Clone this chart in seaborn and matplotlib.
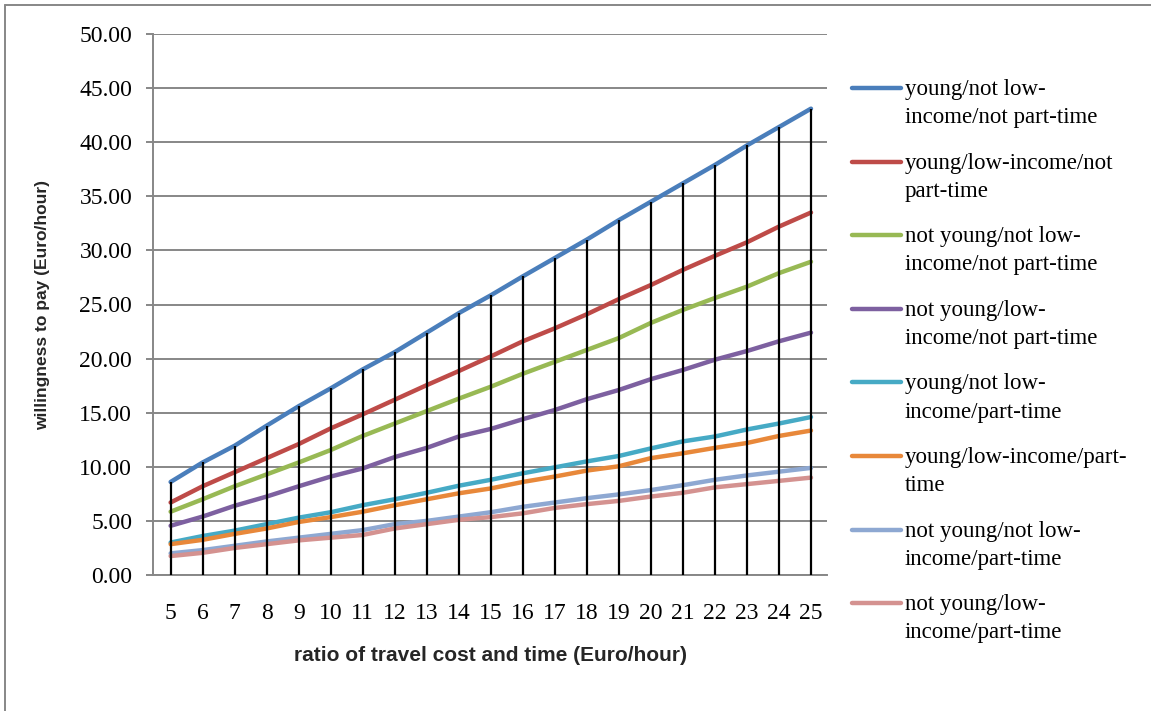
import matplotlib
matplotlib.use("Agg")
import matplotlib.pyplot as plt
from matplotlib.lines import Line2D
import seaborn as sns
import pandas as pd
import numpy as np

ratios = list(range(5, 26))

segments = [
    "young/not low-\nincome/not part-time",
    "young/low-income/not\npart-time",
    "not young/not low-\nincome/not part-time",
    "not young/low-\nincome/not part-time",
    "young/not low-\nincome/part-time",
    "young/low-income/part-\ntime",
    "not young/not low-\nincome/part-time",
    "not young/low-\nincome/part-time",
]

young_notlow_notpt = [8.6, 10.4, 11.95, 13.8, 15.6, 17.25, 19.0, 20.6, 22.4, 24.2, 25.85,
                      27.6, 29.3, 31.0, 32.8, 34.5, 36.2, 37.9, 39.7, 41.4, 43.1]
young_low_notpt = [6.7, 8.2, 9.5, 10.8, 12.1, 13.55, 14.85, 16.2, 17.55, 18.85, 20.2,
                   21.6, 22.8, 24.1, 25.5, 26.8, 28.2, 29.5, 30.75, 32.2, 33.5]
old_notlow_notpt = [5.85, 7.0, 8.2, 9.3, 10.4, 11.55, 12.85, 14.0, 15.15, 16.3, 17.4,
                    18.6, 19.7, 20.8, 21.9, 23.3, 24.5, 25.6, 26.65, 27.9, 28.95]
old_low_notpt = [4.55, 5.4, 6.4, 7.25, 8.2, 9.1, 9.85, 10.9, 11.75, 12.8, 13.5,
                 14.4, 15.25, 16.25, 17.1, 18.1, 18.95, 19.9, 20.7, 21.6, 22.4]
young_notlow_pt = [3.0, 3.6, 4.1, 4.7, 5.3, 5.8, 6.45, 7.0, 7.6, 8.25, 8.8,
                   9.4, 9.95, 10.5, 11.0, 11.7, 12.35, 12.8, 13.45, 14.0, 14.6]
young_low_pt = [2.85, 3.25, 3.8, 4.3, 4.9, 5.35, 5.85, 6.45, 7.0, 7.55, 8.0,
                8.6, 9.1, 9.65, 10.05, 10.8, 11.25, 11.75, 12.2, 12.85, 13.35]
old_notlow_pt = [2.0, 2.3, 2.7, 3.1, 3.45, 3.8, 4.15, 4.7, 5.0, 5.4, 5.8,
                 6.3, 6.7, 7.1, 7.45, 7.85, 8.3, 8.8, 9.2, 9.55, 9.9]
old_low_pt = [1.75, 2.05, 2.5, 2.85, 3.2, 3.45, 3.7, 4.3, 4.7, 5.1, 5.35,
              5.7, 6.2, 6.55, 6.85, 7.25, 7.6, 8.1, 8.4, 8.7, 9.0]

series = [young_notlow_notpt, young_low_notpt, old_notlow_notpt, old_low_notpt,
          young_notlow_pt, young_low_pt, old_notlow_pt, old_low_pt]

colors = ["#4A7EBB", "#BE4B48", "#98B954", "#7D60A0",
          "#46AAC5", "#E8883A", "#8EA8D2", "#D49290"]

y_ticks = [0, 5, 10, 15, 20, 25, 30, 35, 40, 45, 50]

df = pd.DataFrame({
    "ratio": np.tile(ratios, len(segments)),
    "wtp": np.concatenate(series),
    "segment": np.repeat(segments, len(ratios)),
})

sns.set_theme(style="white")
plt.rcParams["font.family"] = ["Liberation Serif", "DejaVu Serif"]

W, H = 1151, 711
fig = plt.figure(figsize=(W / 100, H / 100), dpi=100)
ax = fig.add_axes([153 / W, 1 - 575 / H, (827 - 153) / W, (575 - 34) / H])

grey = "#878787"

sns.lineplot(data=df, x="ratio", y="wtp", hue="segment", hue_order=segments,
             palette=colors, linewidth=3.2, legend=False, ax=ax, zorder=2,
             solid_capstyle="round")

# drop lines from the highest series down to the category axis
top = np.max(np.array(series), axis=0)
ax.vlines(ratios, 0, top, colors="black", linewidth=1.6, zorder=3)

ax.set_xlim(4.45, 25.5)
ax.set_ylim(0, 50)
ax.set_xticks(ratios)
ax.set_xticklabels([str(r) for r in ratios])
ax.set_yticks(y_ticks)
ax.set_yticklabels([f"{v:.2f}" for v in y_ticks])
ax.yaxis.grid(True, color=grey, linewidth=1.4)
ax.xaxis.grid(False)
ax.set_axisbelow(True)

for side in ["top", "right"]:
    ax.spines[side].set_visible(False)
for side in ["left", "bottom"]:
    ax.spines[side].set_color(grey)
    ax.spines[side].set_linewidth(1.4)

ax.tick_params(axis="y", which="both", length=5, width=1.4, color=grey,
               direction="out", left=True, labelsize=17, pad=10, labelcolor="black")
ax.tick_params(axis="x", which="both", length=0, labelsize=17, pad=20,
               labelcolor="black")

ax.set_xlabel("ratio of travel cost and time (Euro/hour)",
              fontdict={"family": "Liberation Sans", "weight": "bold", "size": 15},
              labelpad=16)
ax.set_ylabel("willingness to pay (Euro/hour)",
              fontdict={"family": "Liberation Sans", "weight": "bold", "size": 12.5},
              labelpad=21)

# legend: one swatch per segment, label wrapped over two lines
for i, (lab, col) in enumerate(zip(segments, colors)):
    yc = 88 + 73.6 * i
    fig.add_artist(Line2D([852 / W, 901 / W], [1 - yc / H, 1 - yc / H],
                          transform=fig.transFigure, color=col, linewidth=3.2,
                          solid_capstyle="round"))
    fig.text(905 / W, 1 - (yc - 9) / H, lab, ha="left", va="top",
             fontsize=16.5, linespacing=1.45, color="black")

# chart frame
fig.add_artist(Line2D([5 / W, 5 / W], [0, 1 - 5 / H], transform=fig.transFigure,
                      color=grey, linewidth=1.4))
fig.add_artist(Line2D([5 / W, 1], [1 - 5 / H, 1 - 5 / H], transform=fig.transFigure,
                      color=grey, linewidth=1.4))

fig.savefig("out.png", dpi=100, facecolor="white")
